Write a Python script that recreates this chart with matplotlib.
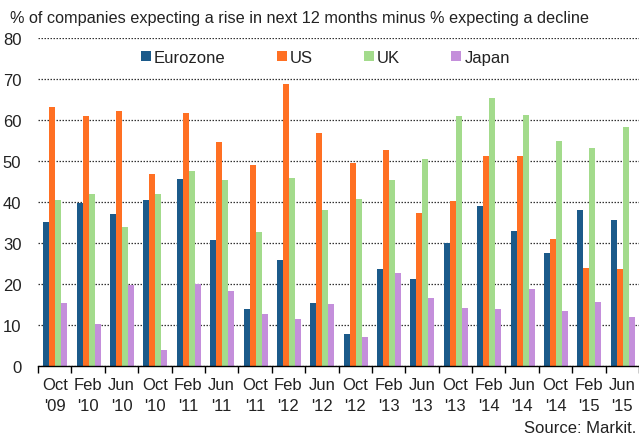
import numpy as np
import matplotlib.pyplot as plt

plt.rcParams['font.family'] = ['Liberation Sans', 'DejaVu Sans']

# survey dates (Oct / Feb / Jun rounds)
labels = ["Oct\n'09", "Feb\n'10", "Jun\n'10", "Oct\n'10", "Feb\n'11", "Jun\n'11",
          "Oct\n'11", "Feb\n'12", "Jun\n'12", "Oct\n'12", "Feb\n'13", "Jun\n'13",
          "Oct\n'13", "Feb\n'14", "Jun\n'14", "Oct\n'14", "Feb\n'15", "Jun\n'15"]

eurozone = [35.1, 39.8, 37.0, 40.5, 45.7, 30.7, 14.0, 25.8, 15.4, 7.7, 23.6, 21.3,
            30.0, 39.1, 33.0, 27.6, 38.0, 35.6]
us = [63.2, 60.9, 62.3, 46.9, 61.6, 54.6, 49.0, 68.9, 56.9, 49.4, 52.8, 37.2,
      40.3, 51.1, 51.1, 30.9, 23.9, 23.6]
uk = [40.5, 41.9, 33.9, 41.9, 47.5, 45.4, 32.8, 45.9, 38.0, 40.7, 45.4, 50.6,
      60.9, 65.3, 61.1, 54.8, 53.2, 58.3]
japan = [15.4, 10.3, 19.8, 3.9, 20.1, 18.2, 12.6, 11.4, 15.2, 7.0, 22.7, 16.6,
         14.2, 13.8, 18.7, 13.3, 15.6, 11.9]

series = [('Eurozone', eurozone, '#1b5a8a'),
          ('US', us, '#ff7023'),
          ('UK', uk, '#a3db8c'),
          ('Japan', japan, '#c48fdb')]

fig = plt.figure(figsize=(6.39, 4.39), dpi=100)
ax = fig.add_axes([38 / 639, 1 - 367 / 439, 1 - 38 / 639, (367 - 39) / 439])

x = np.arange(len(labels))
w = 0.18
for i, (name, vals, col) in enumerate(series):
    ax.bar(x + (i - 1.5) * w + 0.015, vals, width=w, color=col, label=name, zorder=2,
           linewidth=0)

ax.set_xlim(-0.5, len(labels) - 0.5)
ax.set_ylim(0, 80)
ax.set_yticks(range(0, 81, 10))
ax.grid(axis='y', linestyle=(0, (1.2, 1.2)), color='#333333', linewidth=0.9, zorder=0)
ax.set_axisbelow(True)

for s in ['top', 'right', 'left']:
    ax.spines[s].set_visible(False)
ax.spines['bottom'].set_color('black')
ax.spines['bottom'].set_linewidth(1.0)

# ticks between groups, labels centred under each group
ax.set_xticks(np.arange(-0.5, len(labels), 1.0))
ax.set_xticklabels([])
ax.set_xticks(x, minor=True)
ax.set_xticklabels(labels, minor=True, fontsize=12, color='#222222', linespacing=1.45)
ax.tick_params(axis='x', which='major', length=5, width=1, direction='out')
ax.tick_params(axis='x', which='minor', length=0, pad=8)
ax.tick_params(axis='y', length=0, labelsize=12, labelcolor='#222222', pad=12)

ax.legend(loc='upper center', bbox_to_anchor=(0.478, 1.01), ncol=4, frameon=False,
          fontsize=12, handlelength=0.6, handleheight=0.6, handletextpad=0.2,
          columnspacing=3.05, labelcolor='#222222')

fig.text(10 / 639, 1 - 18 / 439, '% of companies expecting a rise in next 12 months minus % expecting a decline',
         fontsize=11.7, color='#222222', va='center', ha='left')
fig.text(636 / 639, 1 - 429 / 439, 'Source: Markit.', fontsize=12, color='#222222',
         va='center', ha='right')

fig.savefig('out.png', dpi=100)
